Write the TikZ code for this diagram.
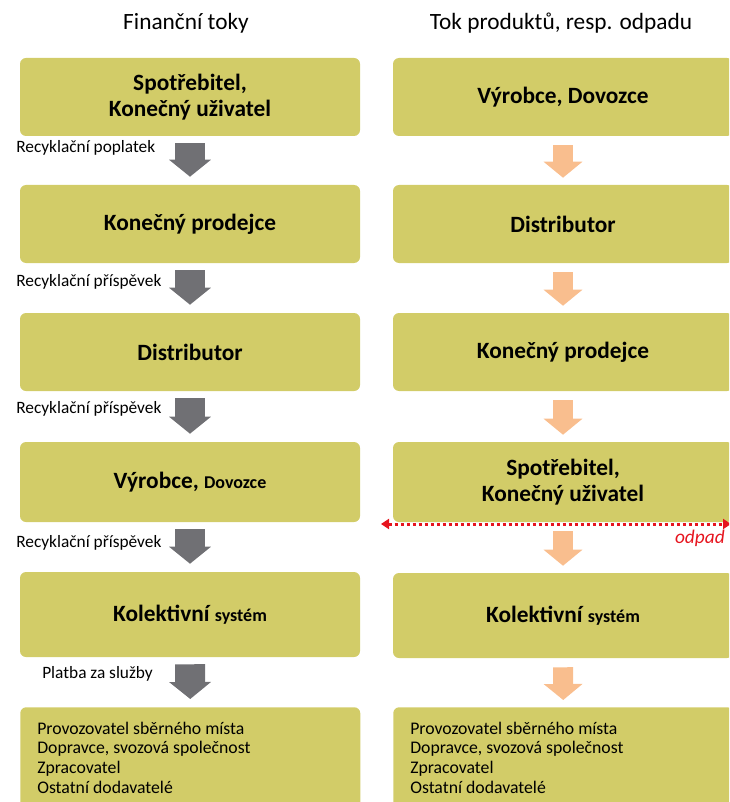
\documentclass[tikz,border=0pt]{standalone}
\usepackage{fontspec}
\setmainfont{Carlito}
\usetikzlibrary{positioning,arrows.meta}
\definecolor{boxfill}{RGB}{210,204,104}
\definecolor{grayarr}{RGB}{112,112,116}
\definecolor{orangearr}{RGB}{249,190,142}
\definecolor{odpadred}{RGB}{230,20,30}
\tikzset{
  box/.style={fill=boxfill, rounded corners=4.5pt, minimum width=255pt, minimum height=58.5pt,
    inner sep=0pt, align=center, font=\bfseries\fontsize{17.5}{19.5}\selectfont},
  listbox/.style={box, anchor=north west, align=flush left, text width=229.5pt, inner xsep=12.75pt,
    inner ysep=11pt, font=\fontsize{13.3}{14.8}\selectfont},
  lab/.style={anchor=base west, inner sep=0pt, font=\fontsize{13}{15}\selectfont},
  garr/.style={draw=grayarr, line width=22.5pt, -{Triangle[length=12.75pt,width=30.75pt]},
    shorten <=5.25pt, shorten >=6pt},
  oarr/.style={draw=orangearr, line width=15pt, -{Triangle[length=12pt,width=28.5pt]},
    shorten <=6.75pt, shorten >=5.25pt}
}
\newcommand{\smb}[1]{{\fontsize{13.5}{15}\selectfont #1}}
\begin{document}
\begin{tikzpicture}[x=0.75pt,y=-0.75pt]
\clip (0,0) rectangle (729,802);

% titles
\node[anchor=base, font=\fontsize{17.5}{20}\selectfont] (tfin) at (186,30) {Finanční toky};
\node[anchor=base, font=\fontsize{17.5}{20}\selectfont] (ttok) at (561,30) {Tok produktů, resp. odpadu};

% left column: financni toky
\node[box] (f1) at (190,97) {Spotřebitel,\\Konečný uživatel};
\node[box] (f2) at (190,224) {Konečný prodejce};
\node[box] (f3) at (190,352) {Distributor};
\node[box, minimum height=60pt] (f4) at (190,482) {Výrobce, \smb{Dovozce}};
\node[box, minimum height=63.75pt] (f5) at (190,614.5) {Kolektivní \smb{systém}};
\node[listbox] (f6) at (20,707) {Provozovatel sběrného místa\\Dopravce, svozová společnost\\Zpracovatel\\Ostatní dodavatelé};

% right column: tok produktu
\node[box] (p1) at (563,97) {Výrobce, Dovozce};
\node[box] (p2) at (563,224) {Distributor};
\node[box] (p3) at (563,352) {Konečný prodejce};
\node[box, minimum height=60pt] (p4) at (563,482) {Spotřebitel,\\Konečný uživatel};
\node[box, minimum height=63.75pt] (p5) at (563,615.5) {Kolektivní \smb{systém}};
\node[listbox] (p6) at (393,707) {Provozovatel sběrného místa\\Dopravce, svozová společnost\\Zpracovatel\\Ostatní dodavatelé};

% arrows
\foreach \A/\B in {f1/f2,f2/f3,f3/f4,f4/f5,f5/f6}
  \draw[garr] (\A.south) -- (\B.north);
\foreach \A/\B in {p1/p2,p2/p3,p3/p4,p4/p5,p5/p6}
  \draw[oarr] (\A.south) -- (\B.north);

% payments
\node[lab] (l1) at (16,153) {Recyklační poplatek};
\node[lab] (l2) at (16,286) {Recyklační příspěvek};
\node[lab] (l3) at (16,413) {Recyklační příspěvek};
\node[lab] (l4) at (16,547) {Recyklační příspěvek};
\node[lab] (l5) at (42,678) {Platba za služby};

% odpad
\coordinate (wl) at (381,524);
\coordinate (wr) at (731,524);
\draw[odpadred, line width=2.25pt, dash pattern=on 2.25pt off 2.25pt,
  {Triangle[length=6pt,width=7.5pt]}-{Triangle[length=6pt,width=7.5pt]}] (wl) -- (wr);
\node[anchor=base east, inner sep=0pt, text=odpadred, font=\itshape\fontsize{14.5}{16}\selectfont] (odp) at (725,543) {odpad};
\end{tikzpicture}
\end{document}
